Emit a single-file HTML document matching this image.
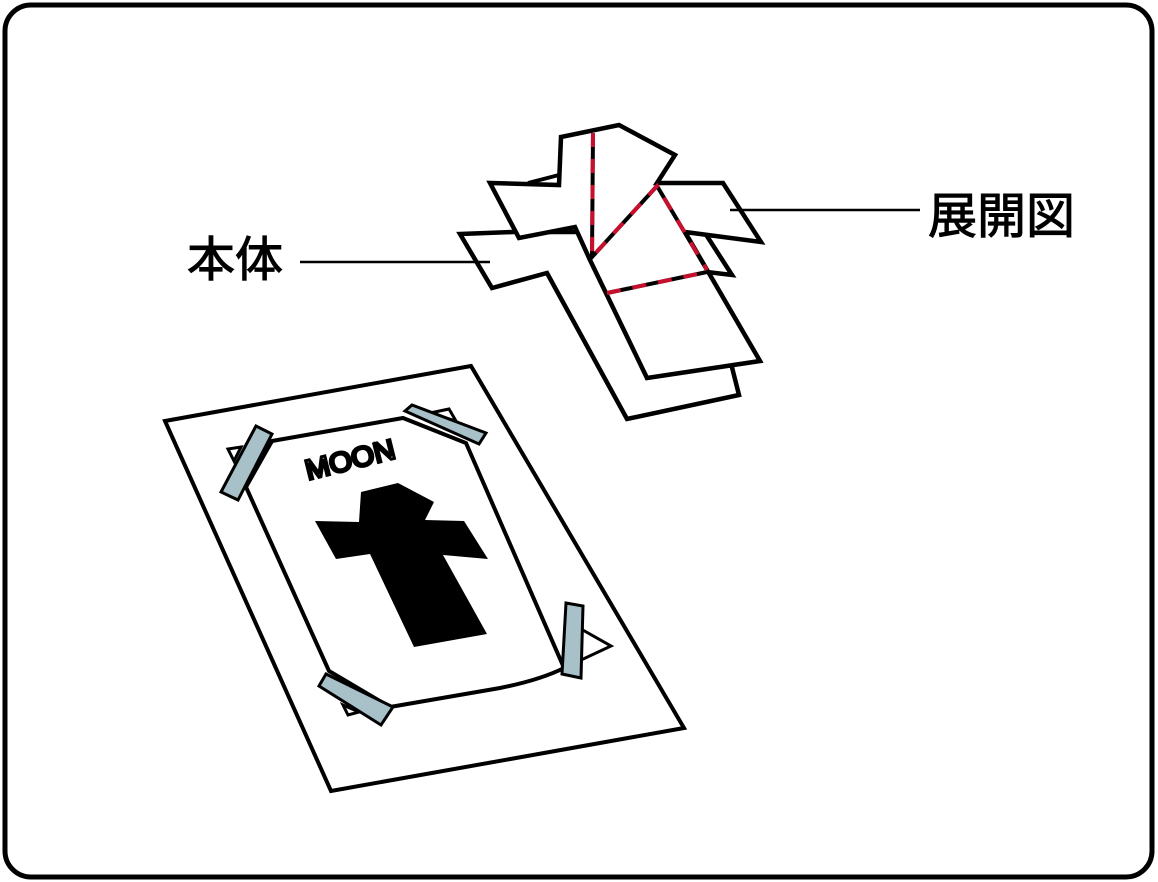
<!DOCTYPE html>
<html><head><meta charset="utf-8"><style>
html,body{margin:0;padding:0;background:#fff;}
svg{display:block;}
text{font-family:"Liberation Sans","Noto Sans CJK JP",sans-serif;}
</style></head><body>
<svg width="1158" height="882" viewBox="0 0 1158 882" xmlns="http://www.w3.org/2000/svg">
<rect x="5" y="5" width="1147" height="872" rx="26" ry="26" fill="#fff" stroke="#000" stroke-width="5"/>
<!-- labels -->
<text x="187" y="276" font-size="48" fill="#000" stroke="#000" stroke-width="1">本体</text>
<text x="928" y="233" font-size="49" fill="#000" stroke="#000" stroke-width="1">展開図</text>
<!-- back piece -->
<polygon points="460,234 513,232 685,232 705,233 732,275 707,272 715,300 739,395 627,419 547,273 492,288" fill="#fff" stroke="#000" stroke-width="4.5" stroke-linejoin="miter"/>
<line x1="528" y1="183" x2="559" y2="175" stroke="#000" stroke-width="4"/>
<!-- front piece -->
<polygon points="490,183 519,238 575,227 590,260 647,378 760,361 685,232 761,242 723,183 657,183 675,155 619,125 561,137 559,185" fill="#fff" stroke="#000" stroke-width="4.5" stroke-linejoin="miter"/>
<line x1="300" y1="262" x2="490" y2="262" stroke="#000" stroke-width="2.5"/>
<line x1="730" y1="210" x2="920" y2="210" stroke="#000" stroke-width="2.5"/>
<!-- dashed fold lines -->
<g stroke-width="4" fill="none">
<path d="M593,133 L592,257 L657,186 L707,270 M607,293 L707,272" stroke="#000"/>
<path d="M593,133 L592,257 L657,186 L707,270 M607,293 L707,272" stroke="#c8102e" stroke-dasharray="14 12"/>
</g>
<!-- lower sheet -->
<polygon points="165,421 471,366 684,728 331,791" fill="#fff" stroke="#000" stroke-width="4"/>
<!-- flaps under tape -->
<g fill="#fff" stroke="#000" stroke-width="3">
<polygon points="228,449 241,447 234,461"/>
<polygon points="430,413 449,409 456,421"/>
<polygon points="581,629 611,646 579,661"/>
<polygon points="343,705 348,715 359,712"/>
</g>
<!-- inner card -->
<path d="M272,441 L403,418 L466,443 L564,668 Q540,680 500,688 L390,707 L329,671 L246,487 Z" fill="#fff" stroke="#000" stroke-width="4"/>
<!-- cross -->
<polygon points="315,521 359,522 361,492 398,483 434,502 425,520 464,521 488,559 443,555 487,634 414,647 370,554 336,559" fill="#000"/>
<!-- moon text -->
<text x="0" y="0" font-size="28" fill="none" stroke="#000" stroke-width="3" transform="translate(308,480) rotate(-14) scale(1.05,1)">MOON</text>
<!-- tapes -->
<g fill="#a8c0c8" stroke="#000" stroke-width="3">
<polygon points="221,492 256,426 272,434 238,500"/>
<polygon points="405,411 412,405 486,433 479,444"/>
<polygon points="566,603 583,606 581,678 562,674"/>
<polygon points="319,686 326,674 393,707 381,725"/>
</g>
</svg>
</body></html>
